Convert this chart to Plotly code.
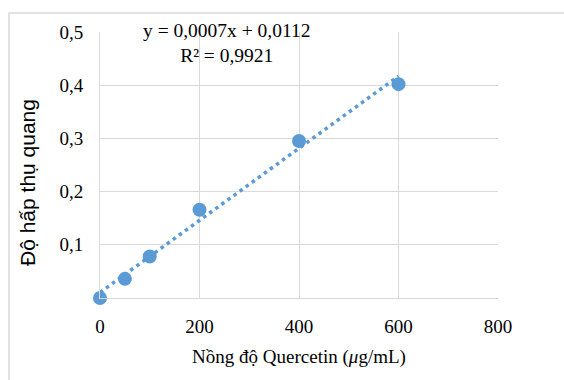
import numpy as np
import plotly.graph_objects as go

# Data
conc = [0, 50, 100, 200, 400, 600]
absorb = [0.0, 0.036, 0.078, 0.166, 0.295, 0.402]
x_ticks = [0, 200, 400, 600, 800]
x_ticktext = ["0", "200", "400", "600", "800"]
y_ticks = [0.1, 0.2, 0.3, 0.4, 0.5]
y_ticktext = ["0,1", "0,2", "0,3", "0,4", "0,5"]
eq_text = "y = 0,0007x + 0,0112<br>R² = 0,9921"
y_title = "Độ hấp thụ quang"
x_title = "Nồng độ Quercetin (<i>μ</i>g/mL)"

slope, intercept = np.polyfit(conc, absorb, 1)
trend_x = [min(conc), max(conc)]
trend_y = [slope * v + intercept for v in trend_x]

blue = "#5B9BD5"
grid = "#D9D9D9"
serif = "Liberation Serif, Times New Roman, serif"
sans = "Liberation Sans, Arial, sans-serif"

fig = go.Figure()
fig.add_trace(go.Scatter(x=trend_x, y=trend_y, mode="lines",
                         line=dict(color=blue, width=3.5, dash="3.5px,4px"),
                         hoverinfo="skip", cliponaxis=False))
fig.add_trace(go.Scatter(x=conc, y=absorb, mode="markers",
                         marker=dict(color=blue, size=14),
                         cliponaxis=False))

fig.update_layout(
    width=564, height=380,
    margin=dict(l=100, r=66, t=32, b=82),
    paper_bgcolor="white", plot_bgcolor="white",
    showlegend=False,
    xaxis=dict(range=[0, 800], tickvals=x_ticks, ticktext=x_ticktext,
               showgrid=True, gridcolor=grid, gridwidth=1,
               showline=True, linecolor=grid, linewidth=1,
               zeroline=False, ticks="outside", ticklen=11,
               tickcolor="rgba(0,0,0,0)",
               tickfont=dict(family=serif, size=19, color="black"),
               title=dict(text=x_title,
                          font=dict(family=serif, size=19, color="black"),
                          standoff=13)),
    yaxis=dict(range=[0, 0.5], tickvals=y_ticks, ticktext=y_ticktext,
               showgrid=True, gridcolor=grid, gridwidth=1,
               showline=True, linecolor=grid, linewidth=1,
               zeroline=False, ticks="outside", ticklen=12,
               tickcolor="rgba(0,0,0,0)",
               tickfont=dict(family=serif, size=19, color="black")),
    annotations=[
        dict(text=eq_text, xref="paper", yref="paper",
             x=(227 - 100) / 398, y=(298 - 43) / 266,
             xanchor="center", yanchor="middle", showarrow=False,
             align="center",
             font=dict(family=serif, size=19.5, color="black")),
        dict(text=y_title, xref="paper", yref="paper",
             x=(27 - 100) / 398, y=(298 - 183) / 266, textangle=-90,
             xanchor="center", yanchor="middle", showarrow=False,
             font=dict(family=sans, size=21, color="black")),
    ],
    shapes=[dict(type="rect", xref="paper", yref="paper",
                 x0=(9 - 100) / 398, x1=1.3, y0=-0.5, y1=(298 - 13) / 266,
                 line=dict(color=grid, width=1.5), fillcolor="rgba(0,0,0,0)",
                 layer="below")],
)

fig.write_html("out.html")
